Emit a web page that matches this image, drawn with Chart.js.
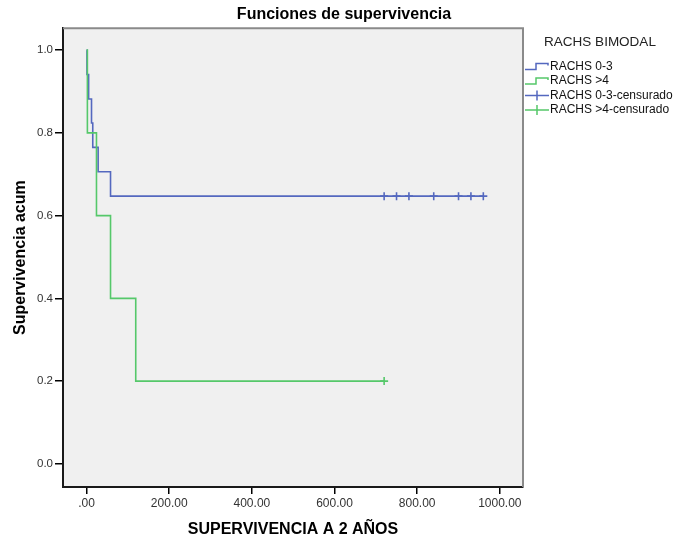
<!DOCTYPE html>
<html>
<head>
<meta charset="utf-8">
<script src="https://cdn.jsdelivr.net/npm/chart.js@4/dist/chart.umd.min.js"></script>
<style>
  html, body { margin: 0; padding: 0; background: #ffffff; }
  #c { display: block; }
</style>
</head>
<body>
<canvas id="c" width="676" height="542"></canvas>
<script>
// ---- Data ----
const blueTimes = [0, 1, 5, 12, 15, 28, 58, 960];
const blueSurv  = [1.0, 0.941, 0.882, 0.824, 0.765, 0.706, 0.647, 0.647];
const greenTimes = [0, 2, 24, 58, 119, 720];
const greenSurv  = [1.0, 0.8, 0.6, 0.4, 0.2, 0.2];
const blueCensTimes = [720, 750, 780, 840, 900, 930, 960];
const blueCensSurv  = [0.647, 0.647, 0.647, 0.647, 0.647, 0.647, 0.647];
const greenCensTimes = [720];
const greenCensSurv  = [0.2];
const xTickValues = [0, 200, 400, 600, 800, 1000];
const yTickValues = [0, 0.2, 0.4, 0.6, 0.8, 1.0];
const seriesNames = ['RACHS 0-3', 'RACHS >4', 'RACHS 0-3-censurado', 'RACHS >4-censurado'];
const legendTitle = 'RACHS BIMODAL';
const chartTitle = 'Funciones de supervivencia';
const xTitle = 'SUPERVIVENCIA A 2 AÑOS';
const yTitle = 'Supervivencia acum';

const BLUE = '#5468bf';
const GREEN = '#55c86a';
const FONT = "'Liberation Sans', Arial, sans-serif";

const toPts = (xs, ys) => xs.map((x, i) => ({ x: x, y: ys[i] }));

const plotBg = {
  id: 'plotBg',
  beforeDraw(chart) {
    const { ctx, chartArea: a } = chart;
    ctx.save();
    ctx.fillStyle = '#f0f0f0';
    ctx.fillRect(a.left, a.top, a.right - a.left, a.bottom - a.top);
    ctx.restore();
  },
  afterDraw(chart) {
    const { ctx, chartArea: a } = chart;
    ctx.save();
    ctx.strokeStyle = '#8a8a8a';
    ctx.lineWidth = 2;
    ctx.beginPath();
    ctx.moveTo(a.left, a.top);
    ctx.lineTo(a.right, a.top);
    ctx.lineTo(a.right, a.bottom);
    ctx.stroke();
    ctx.restore();
  }
};

const customLegend = {
  id: 'customLegend',
  afterDraw(chart) {
    const ctx = chart.ctx;
    ctx.save();
    ctx.fillStyle = '#222';
    ctx.font = "13.5px " + FONT;
    ctx.textAlign = 'center';
    ctx.textBaseline = 'middle';
    ctx.fillText(legendTitle, 600, 42);
    const rows = [66.5, 81, 95.5, 110];
    const colors = [BLUE, GREEN, BLUE, GREEN];
    ctx.textAlign = 'left';
    ctx.font = "12px " + FONT;
    rows.forEach((y, i) => {
      ctx.strokeStyle = colors[i];
      ctx.lineWidth = 1.5;
      ctx.beginPath();
      if (i < 2) {
        ctx.moveTo(525, y + 3);
        ctx.lineTo(536, y + 3);
        ctx.lineTo(536, y - 3);
        ctx.lineTo(548, y - 3);
        ctx.lineTo(548, y - 1);
      } else {
        ctx.moveTo(525, y);
        ctx.lineTo(549, y);
        ctx.moveTo(537, y - 5);
        ctx.lineTo(537, y + 5);
      }
      ctx.stroke();
      ctx.fillStyle = '#111';
      ctx.fillText(seriesNames[i], 550, y);
    });
    ctx.restore();
  }
};

new Chart(document.getElementById('c'), {
  type: 'line',
  data: {
    datasets: [
      { label: seriesNames[1], data: toPts(greenTimes, greenSurv), borderColor: GREEN, borderWidth: 1.6, stepped: true, pointRadius: 0, fill: false },
      { label: seriesNames[0], data: toPts(blueTimes, blueSurv), borderColor: BLUE, borderWidth: 1.6, stepped: true, pointRadius: 0, fill: false },
      { label: seriesNames[2], data: toPts(blueCensTimes, blueCensSurv), showLine: false, pointStyle: 'cross', pointRadius: 4, borderColor: BLUE, pointBorderWidth: 1.6, backgroundColor: BLUE },
      { label: seriesNames[3], data: toPts(greenCensTimes, greenCensSurv), showLine: false, pointStyle: 'cross', pointRadius: 4, borderColor: GREEN, pointBorderWidth: 1.6, backgroundColor: GREEN }
    ]
  },
  options: {
    responsive: false,
    animation: false,
    layout: { padding: { left: 12, right: 0, top: 0, bottom: 0 } },
    plugins: {
      legend: { display: false },
      tooltip: { enabled: false },
      title: {
        display: true,
        text: chartTitle,
        color: '#000',
        font: { family: FONT, size: 16, weight: 'bold' },
        padding: { top: 5, bottom: 4 }
      }
    },
    scales: {
      x: {
        type: 'linear',
        min: -57,
        max: 1056,
        afterBuildTicks: s => { s.ticks = xTickValues.map(v => ({ value: v })); },
        afterFit: s => { s.height = 55; },
        ticks: {
          callback: v => (v === 0 ? '.00' : Number(v).toFixed(2)),
          color: '#333',
          font: { family: FONT, size: 12 },
          padding: 2,
          maxRotation: 0,
          autoSkip: false
        },
        grid: { drawOnChartArea: false, drawTicks: true, tickLength: 7, color: '#000', lineWidth: 1.5 },
        border: { display: true, color: '#1a1a1a', width: 2 },
        title: {
          display: true,
          text: xTitle,
          color: '#000',
          font: { family: FONT, size: 16, weight: 'bold' },
          padding: { top: 0, bottom: 3 }
        }
      },
      y: {
        type: 'linear',
        min: -0.056,
        max: 1.053,
        afterBuildTicks: s => { s.ticks = yTickValues.map(v => ({ value: v })); },
        afterFit: s => { s.width = 51; },
        ticks: {
          callback: v => Number(v).toFixed(1),
          color: '#333',
          font: { family: FONT, size: 11.5 },
          padding: 2,
          autoSkip: false
        },
        grid: { drawOnChartArea: false, drawTicks: true, tickLength: 8, color: '#000', lineWidth: 1.5 },
        border: { display: true, color: '#1a1a1a', width: 2 },
        title: {
          display: true,
          text: yTitle,
          color: '#000',
          font: { family: FONT, size: 16, weight: 'bold' },
          padding: { top: -1, bottom: 0 }
        }
      },
      yRight: {
        type: 'linear',
        position: 'right',
        display: true,
        afterFit: s => { s.width = 153; },
        ticks: { display: false },
        grid: { display: false },
        border: { display: false }
      }
    }
  },
  plugins: [plotBg, customLegend]
});
</script>
</body>
</html>
